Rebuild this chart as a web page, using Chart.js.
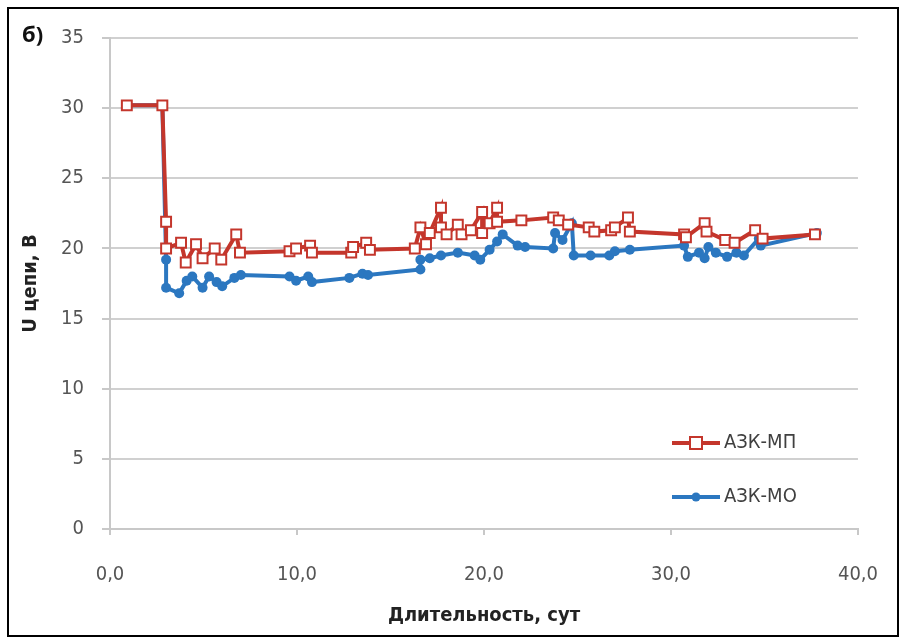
<!DOCTYPE html>
<html>
<head>
<meta charset="utf-8">
<script src="https://cdn.jsdelivr.net/npm/chart.js@4/dist/chart.umd.min.js"></script>
<style>
  body { margin: 0; background: #fff; }
  #wrap { width: 906px; height: 638px; position: relative; }
</style>
</head>
<body>
<div id="wrap"><canvas id="myChart" width="906" height="638"></canvas></div>
<script>
// АЗК-МП (red, open squares)
var mpX = [0.9, 2.8, 3.0, 3.0, 3.8, 4.05, 4.6, 4.95, 5.6, 5.95, 6.75, 6.95, 9.6, 9.95, 10.7, 10.8, 12.9, 13.0, 13.7, 13.9, 16.3, 16.6, 16.9, 17.1, 17.7, 17.7, 18.0, 18.6, 18.8, 19.3, 19.9, 19.9, 20.3, 20.7, 20.7, 22.0, 23.7, 24.0, 24.5, 25.6, 25.9, 26.8, 27.0, 27.7, 27.8, 30.7, 30.8, 31.8, 31.9, 32.9, 33.4, 34.5, 34.9, 37.7];
var mpY = [30.2, 30.2, 21.9, 20.0, 20.4, 19.0, 20.3, 19.3, 20.0, 19.2, 21.0, 19.7, 19.8, 20.0, 20.2, 19.7, 19.7, 20.1, 20.4, 19.9, 20.0, 21.5, 20.3, 21.1, 22.9, 21.5, 21.0, 21.7, 21.0, 21.3, 22.6, 21.1, 21.8, 22.9, 21.9, 22.0, 22.2, 22.0, 21.7, 21.5, 21.2, 21.3, 21.5, 22.2, 21.2, 21.0, 20.8, 21.8, 21.2, 20.6, 20.4, 21.3, 20.7, 21.0];

// АЗК-МО (blue, filled circles)
var moX = [0.9, 2.8, 3.0, 3.0, 3.7, 4.1, 4.4, 4.95, 5.3, 5.7, 6.0, 6.65, 7.0, 9.6, 9.95, 10.6, 10.8, 12.8, 13.5, 13.8, 16.6, 16.6, 17.1, 17.7, 18.6, 19.5, 19.8, 20.3, 20.7, 21.0, 21.8, 22.2, 23.7, 23.8, 24.2, 24.7, 24.8, 25.7, 26.7, 27.0, 27.8, 30.7, 30.9, 31.5, 31.8, 32.0, 32.4, 33.0, 33.5, 33.9, 34.7, 34.8, 37.8];
var moY = [30.2, 30.2, 19.2, 17.2, 16.8, 17.7, 18.0, 17.2, 18.0, 17.6, 17.3, 17.9, 18.1, 18.0, 17.7, 18.0, 17.6, 17.9, 18.2, 18.1, 18.5, 19.2, 19.3, 19.5, 19.7, 19.5, 19.2, 19.9, 20.5, 21.0, 20.2, 20.1, 20.0, 21.1, 20.6, 21.8, 19.5, 19.5, 19.5, 19.8, 19.9, 20.2, 19.4, 19.7, 19.3, 20.1, 19.7, 19.4, 19.7, 19.5, 20.7, 20.2, 21.1];

var seriesNames = ['АЗК-МП', 'АЗК-МО'];
var xTitle = 'Длительность, сут';
var yTitle = 'U цепи, В';
var panelLabel = 'б)';

var RED = '#c4362c';
var BLUE = '#2b77c0';
var FONT = "'Liberation Sans Narrow', 'DejaVu Sans Condensed', Arial, sans-serif";

function toPoints(xs, ys) {
  var pts = [];
  for (var i = 0; i < xs.length; i++) pts.push({x: xs[i], y: ys[i]});
  return pts;
}

// legend inside plot + panel label + frame
var extras = {
  id: 'extras',
  afterDraw: function(chart) {
    var ctx = chart.ctx;
    var ca = chart.chartArea;
    ctx.save();
    // frame
    ctx.strokeStyle = '#000';
    ctx.lineWidth = 2;
    ctx.strokeRect(8, 8, 890, 628);
    // panel label
    ctx.fillStyle = '#111';
    ctx.font = "bold 22px 'Open Sans', Arial, sans-serif";
    ctx.textBaseline = 'middle';
    ctx.fillText(panelLabel, 22, 36);

    // legend
    var lx = ca.left + 562, ly1 = ca.top + 405, ly2 = ca.top + 459;
    ctx.lineWidth = 4;
    ctx.strokeStyle = RED;
    ctx.beginPath(); ctx.moveTo(lx, ly1); ctx.lineTo(lx + 48, ly1); ctx.stroke();
    ctx.lineWidth = 2;
    ctx.fillStyle = '#fff';
    ctx.fillRect(lx + 18, ly1 - 6, 12, 12);
    ctx.strokeRect(lx + 18, ly1 - 6, 12, 12);
    ctx.lineWidth = 4;
    ctx.strokeStyle = BLUE;
    ctx.beginPath(); ctx.moveTo(lx, ly2); ctx.lineTo(lx + 48, ly2); ctx.stroke();
    ctx.fillStyle = BLUE;
    ctx.beginPath(); ctx.arc(lx + 24, ly2, 4.5, 0, Math.PI * 2); ctx.fill();

    ctx.fillStyle = '#404040';
    ctx.font = '20px ' + FONT;
    ctx.textBaseline = 'middle';
    ctx.fillText(seriesNames[0], lx + 52, ly1);
    ctx.fillText(seriesNames[1], lx + 52, ly2);
    ctx.restore();
  }
};

var ctx = document.getElementById('myChart').getContext('2d');
var myChart = new Chart(ctx, {
  type: 'scatter',
  data: {
    datasets: [{
      label: seriesNames[0],
      data: toPoints(mpX, mpY),
      showLine: true,
      borderColor: RED,
      borderWidth: 4,
      pointStyle: 'rect',
      pointRadius: 7,
      pointBorderWidth: 2,
      pointBackgroundColor: '#fff',
      pointBorderColor: RED
    }, {
      label: seriesNames[1],
      data: toPoints(moX, moY),
      showLine: true,
      borderColor: BLUE,
      borderWidth: 4,
      pointStyle: 'circle',
      pointRadius: 5,
      pointBorderWidth: 0,
      pointBackgroundColor: BLUE,
      pointBorderColor: BLUE
    }]
  },
  options: {
    responsive: false,
    animation: false,
    layout: { padding: { top: 38, right: 44, left: 15, bottom: 0 } },
    plugins: {
      legend: { display: false },
      tooltip: { enabled: false }
    },
    scales: {
      x: {
        type: 'linear',
        min: 0, max: 40,
        afterFit: function(s) { s.height = 109; },
        ticks: {
          stepSize: 10,
          padding: 28,
          color: '#555',
          font: { family: FONT, size: 20 },
          callback: function(v) { return v.toFixed(1).replace('.', ','); }
        },
        grid: { drawOnChartArea: false, color: '#c8c8c8', tickLength: 6, lineWidth: 2 },
        border: { color: '#c8c8c8', width: 2 },
        title: {
          display: true,
          text: xTitle,
          color: '#222',
          font: { family: FONT, size: 20, weight: 'bold' },
          padding: { top: 4, bottom: 10 }
        }
      },
      y: {
        min: 0, max: 35,
        afterFit: function(s) { s.width = 95; },
        ticks: {
          stepSize: 5,
          padding: 18,
          color: '#555',
          font: { family: FONT, size: 20 }
        },
        grid: { color: '#d0d0d0', tickColor: '#c8c8c8', tickLength: 8, lineWidth: 2 },
        border: { color: '#c8c8c8', width: 2 },
        title: {
          display: true,
          text: yTitle,
          color: '#222',
          font: { family: FONT, size: 20, weight: 'bold' },
          padding: { top: 4, bottom: 2 }
        }
      }
    }
  },
  plugins: [extras]
});
</script>
</body>
</html>
